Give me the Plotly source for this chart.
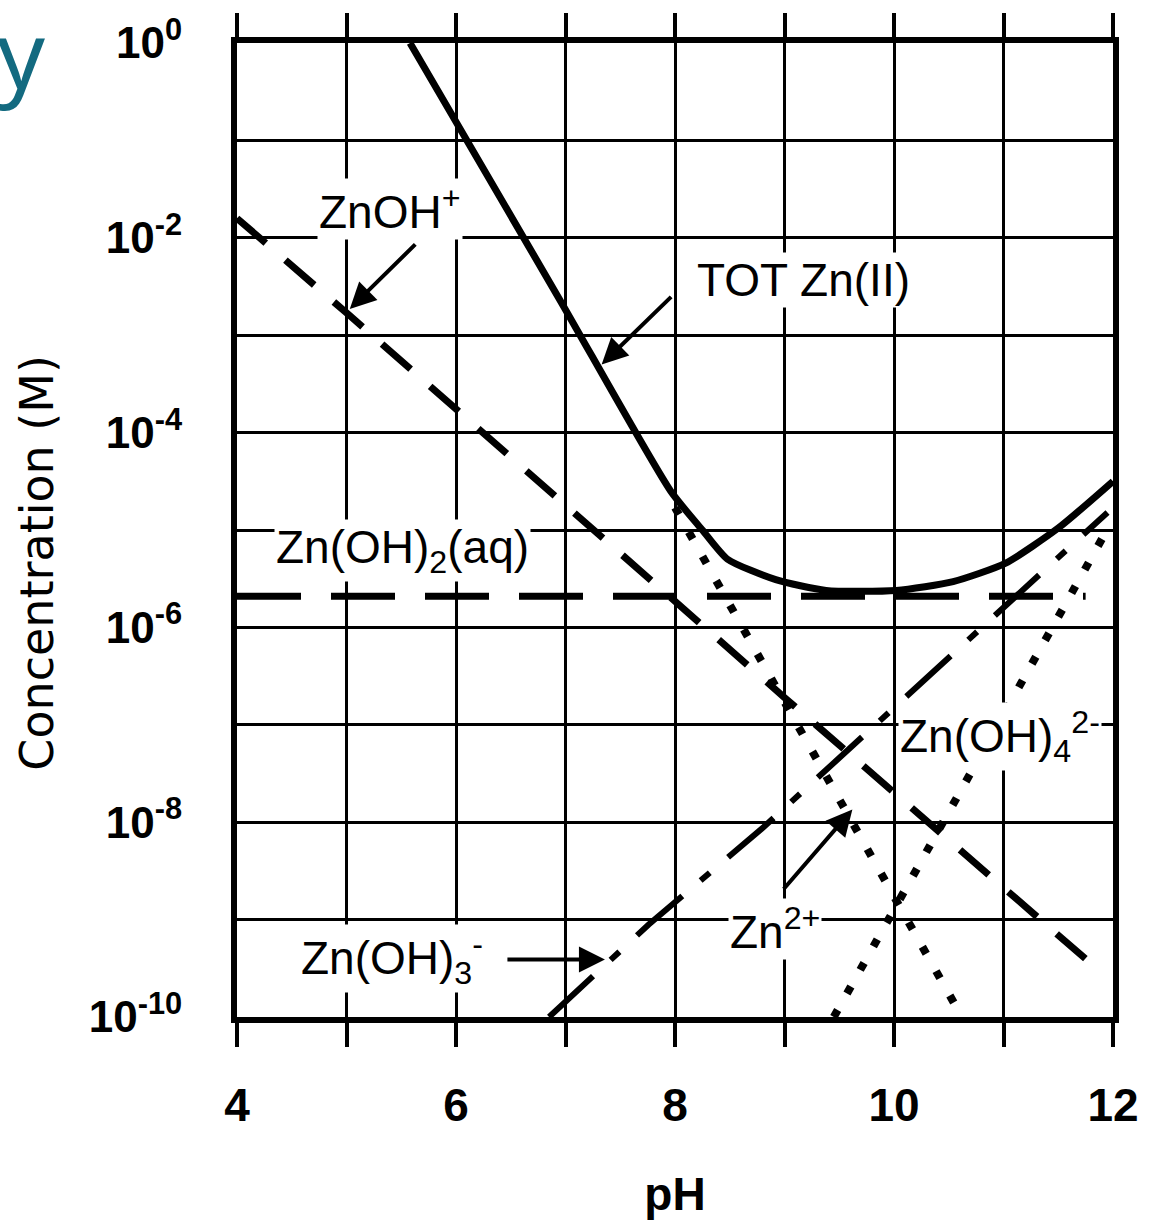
import plotly.graph_objects as go

# ---------------- data (log10 of concentration in M) -------------
ph_tot = [5.58, 6.95, 7.96, 8.25, 8.48, 8.92, 9.38, 10.02, 10.54, 11.02, 11.5, 12.0]
log_tot = [0.0, -2.64, -4.6, -5.0, -5.3, -5.51, -5.62, -5.62, -5.53, -5.34, -4.98, -4.5]

ph_znoh = [4.0, 5.03, 9.0, 11.9]
log_znoh = [-1.8, -2.8, -6.72, -9.55]

ph_znoh2 = [4.0, 11.75]
log_znoh2 = [-5.68, -5.68]

ph_zn = [8.0, 9.19, 10.62]
log_zn = [-4.77, -7.15, -10.0]

ph_znoh3 = [6.85, 7.76, 8.81, 10.0, 11.79, 11.95]
log_znoh3 = [-10.0, -9.05, -8.05, -6.82, -4.98, -4.82]

ph_znoh4 = [9.45, 11.09, 11.95]
log_znoh4 = [-10.0, -6.71, -4.99]

x_major = [4, 6, 8, 10, 12]
x_major_text = ["4", "6", "8", "10", "12"]
x_minor = [5, 7, 9, 11]
y_major_dec = [0, -2, -4, -6, -8, -10]
y_major_text = ["10<sup>0</sup>", "10<sup>-2</sup>", "10<sup>-4</sup>",
                "10<sup>-6</sup>", "10<sup>-8</sup>", "10<sup>-10</sup>"]
y_minor_dec = [-1, -3, -5, -7, -9]


def conc(logs):
    return [10 ** v for v in logs]


fig = go.Figure()

# Zn2+ (dotted)
fig.add_trace(go.Scatter(x=ph_zn, y=conc(log_zn), mode="lines", name="Zn2+",
                         line=dict(color="black", width=8, dash="8px,20px")))
# Zn(OH)4 2- (dotted)
fig.add_trace(go.Scatter(x=ph_znoh4, y=conc(log_znoh4), mode="lines", name="Zn(OH)4 2-",
                         line=dict(color="black", width=8, dash="8px,19px")))
# Zn(OH)3- (dash-dot)
fig.add_trace(go.Scatter(x=ph_znoh3, y=conc(log_znoh3), mode="lines", name="Zn(OH)3-",
                         line=dict(color="black", width=6, dash="60px,24px,12px,24px")))
# ZnOH+ (dashed)
fig.add_trace(go.Scatter(x=ph_znoh, y=conc(log_znoh), mode="lines", name="ZnOH+",
                         line=dict(color="black", width=7, dash="38px,26px")))
# Zn(OH)2(aq) (long dashed)
fig.add_trace(go.Scatter(x=ph_znoh2, y=conc(log_znoh2), mode="lines", name="Zn(OH)2(aq)",
                         line=dict(color="black", width=7, dash="64px,30px")))
# TOT Zn(II) (solid)
fig.add_trace(go.Scatter(x=ph_tot, y=conc(log_tot), mode="lines", name="TOT Zn(II)",
                         line=dict(color="black", width=7, shape="spline", smoothing=0.6)))

# ---------------- layout ----------------
L, R, T, B = 237, 40, 38, 203
W, H = 1153, 1225
PW, PH = W - L - R, H - T - B


def px_x(px):
    return (px - L) / PW


def px_y(py):
    return (H - B - py) / PH


lab_font = dict(family="Liberation Sans, Arial", size=46, color="black")

annotations = []
# text labels (white background masks the grid, as in the original)
labels = [
    ("ZnOH<sup>+</sup>", 5.40, -1.70),
    ("TOT Zn(II)", 9.17, -2.43),
    ("Zn(OH)<sub>2</sub>(aq)", 5.51, -5.21),
    ("Zn(OH)<sub>4</sub><sup>2-</sup>", 10.97, -7.12),
    ("Zn<sup>2+</sup>", 8.91, -9.10),
    ("Zn(OH)<sub>3</sub><sup>-</sup>", 5.42, -9.40),
]
for txt, xv, yv in labels:
    annotations.append(dict(text=txt, x=xv, y=yv, xref="x", yref="y", showarrow=False,
                            font=lab_font, bgcolor="white", borderpad=1,
                            xanchor="center", yanchor="middle"))

# arrows (tip in data coordinates, tail offset in pixels)
arrows = [
    (5.03, -2.73, 67, -66),
    (7.33, -3.30, 71, -69),
    (7.36, -9.41, -99, 0),
    (9.62, -7.87, -70, 81),
]
for xv, yv, axp, ayp in arrows:
    annotations.append(dict(text="", x=xv, y=yv, xref="x", yref="y", showarrow=True,
                            ax=axp, ay=ayp, arrowhead=2, arrowsize=1.3, arrowwidth=4,
                            arrowcolor="black", standoff=0))

# y axis title (placed where the original has it)
annotations.append(dict(text="Concentration (M)", textangle=-90, xref="paper", yref="paper",
                        x=px_x(37), y=px_y(563), showarrow=False, xanchor="center",
                        yanchor="middle",
                        font=dict(family="DejaVu Sans", size=46, color="black")))

# teal fragment of the slide title at the top-left corner
annotations.append(dict(text="y", xref="paper", yref="paper", x=px_x(47), y=px_y(48),
                        xanchor="right", yanchor="middle", showarrow=False,
                        font=dict(family="Noto Sans", size=94, color="#136a80")))

fig.update_layout(
    width=W, height=H,
    margin=dict(l=L, r=R, t=T, b=B, pad=0),
    plot_bgcolor="white", paper_bgcolor="white",
    showlegend=False,
    annotations=annotations,
)

fig.update_xaxes(
    range=[4, 12], tickmode="array", tickvals=x_major, ticktext=x_major_text,
    showgrid=True, gridcolor="black", gridwidth=3, zeroline=False,
    showline=True, linecolor="black", linewidth=6, mirror="allticks",
    ticks="outside", ticklen=24, tickwidth=4, tickcolor="black",
    minor=dict(tickmode="array", tickvals=x_minor, showgrid=True, gridcolor="black",
               gridwidth=3, ticks="outside", ticklen=24, tickwidth=4, tickcolor="black"),
    ticklabelstandoff=19,
    tickfont=dict(family="Liberation Sans, Arial", size=46, color="black", weight="bold"),
    title=dict(text="pH", standoff=50,
               font=dict(family="Liberation Sans, Arial", size=46, color="black", weight="bold")),
)

fig.update_yaxes(
    type="log", range=[-10, 0], tickmode="array",
    tickvals=[10 ** d for d in y_major_dec], ticktext=y_major_text,
    showgrid=True, gridcolor="black", gridwidth=3, zeroline=False,
    showline=True, linecolor="black", linewidth=6, mirror=True,
    minor=dict(tickmode="array", tickvals=[10 ** d for d in y_minor_dec], showgrid=True,
               gridcolor="black", gridwidth=3, ticks=""),
    ticks="", ticklabelstandoff=40,
    tickfont=dict(family="Liberation Sans, Arial", size=44, color="black", weight="bold"),
)

fig.write_html("out.html")
